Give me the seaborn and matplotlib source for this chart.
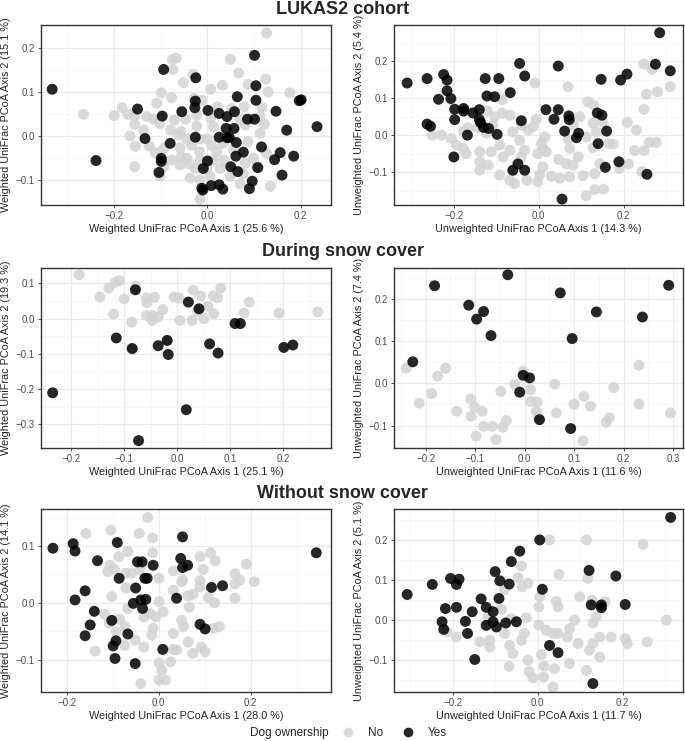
import numpy as np
import pandas as pd
import matplotlib
matplotlib.use('Agg')
import matplotlib.pyplot as plt
import seaborn as sns
from matplotlib.ticker import AutoMinorLocator, FuncFormatter
from matplotlib.lines import Line2D

sns.set_theme(style='white')
plt.rcParams['font.family'] = ['Liberation Sans', 'DejaVu Sans']

# ---- LUKAS2 cohort, weighted UniFrac ----
lw_yes_x = [-0.333, -0.239, -0.150, -0.134, -0.094, -0.097, -0.099, -0.099, -0.104, -0.080,
            -0.055, -0.025, -0.026, -0.027, -0.026, -0.009, 0.000, -0.010, -0.012, 0.001,
            0.008, 0.025, 0.025, 0.025, 0.042, 0.040, 0.042, 0.047, 0.050, 0.033,
            0.064, 0.058, 0.057, 0.062, 0.061, 0.065, 0.077, 0.086, 0.101, 0.101,
            0.104, 0.104, 0.108, 0.096, 0.090, 0.116, 0.147, 0.170, 0.144, 0.156,
            0.160, 0.185, 0.197, 0.201, 0.235]
lw_yes_y = [0.107, -0.055, 0.062, -0.005, 0.152, 0.046, -0.050, -0.057, -0.082, -0.016,
            0.056, 0.133, 0.080, 0.065, -0.002, -0.073, -0.056, -0.122, -0.118, 0.059,
            -0.112, -0.110, 0.052, -0.002, 0.045, 0.018, -0.003, -0.003, -0.069, -0.120,
            0.090, 0.056, 0.018, -0.014, -0.045, -0.080, -0.036, 0.039, 0.039, 0.184,
            0.115, 0.082, -0.071, -0.102, -0.119, -0.024, 0.057, 0.014, -0.053, -0.037,
            -0.088, -0.045, 0.081, 0.083, 0.022]
lw_no_x = [0.127, -0.067, -0.075, 0.049, -0.074, 0.067, -0.031, -0.052, 0.125, 0.032,
           0.087, 0.007, 0.177, 0.130, -0.099, -0.077, -0.028, -0.109, -0.012, 0.021,
           0.052, 0.079, 0.117, -0.183, -0.266, -0.200, -0.171, -0.156, -0.130, -0.116,
           -0.071, -0.047, -0.023, 0.007, 0.070, 0.113, -0.156, -0.102, -0.079, -0.057,
           -0.023, 0.013, 0.081, 0.122, -0.137, -0.166, -0.062, -0.044, -0.016, -0.001,
           0.033, 0.087, 0.113, -0.155, -0.125, -0.093, -0.059, -0.034, 0.009, 0.020,
           0.056, 0.127, -0.017, -0.112, -0.057, -0.077, -0.016, 0.013, 0.036, 0.099,
           -0.156, -0.094, -0.059, -0.039, -0.026, 0.027, 0.081, 0.106, -0.102, -0.037,
           -0.016, 0.006, 0.049, 0.077, 0.135, 0.070, -0.016, -0.044, -0.001]
lw_no_y = [0.235, 0.178, 0.175, 0.175, 0.152, 0.144, 0.141, 0.122, 0.130, 0.116,
           0.118, 0.107, 0.099, 0.101, 0.099, 0.088, 0.086, 0.075, 0.082, 0.067,
           0.063, 0.067, 0.066, 0.065, 0.050, 0.047, 0.050, 0.045, 0.045, 0.039,
           0.037, 0.039, 0.048, 0.041, 0.039, 0.045, 0.027, 0.029, 0.014, 0.011,
           0.023, 0.022, 0.026, 0.028, 0.014, 0.001, 0.003, -0.006, -0.006, -0.006,
           -0.016, -0.012, 0.007, -0.023, -0.022, -0.027, -0.026, -0.020, -0.020, -0.035,
           -0.031, -0.039, -0.035, -0.037, -0.046, -0.054, -0.054, -0.054, -0.054, -0.050,
           -0.069, -0.069, -0.065, -0.063, -0.073, -0.073, -0.061, -0.069, -0.091, -0.095,
           -0.099, -0.091, -0.091, -0.085, -0.114, -0.108, -0.142, -0.050, -0.073]

# ---- LUKAS2 cohort, unweighted UniFrac ----
lu_yes_x = [-0.310, -0.263, -0.263, -0.255, -0.236, -0.224, -0.216, -0.216, -0.207, -0.198,
            -0.198, -0.200, -0.177, -0.177, -0.168, -0.155, -0.140, -0.140, -0.137, -0.130,
            -0.126, -0.122, -0.118, -0.104, -0.098, -0.094, -0.067, -0.061, -0.049, -0.045,
            -0.041, -0.033, -0.033, 0.017, 0.036, 0.046, 0.046, 0.071, 0.072, 0.061,
            0.089, 0.094, 0.140, 0.138, 0.149, 0.160, 0.157, 0.147, 0.193, 0.208,
            0.189, 0.255, 0.055, 0.275, 0.285, 0.310]
lu_yes_y = [0.141, 0.153, 0.030, 0.024, 0.097, 0.164, 0.149, 0.120, 0.099, 0.070,
            0.042, -0.059, 0.072, 0.065, 0.000, 0.060, 0.069, 0.042, 0.034, 0.021,
            0.153, 0.106, 0.018, 0.104, 0.002, 0.153, 0.115, -0.095, -0.078, 0.194,
            0.039, 0.160, -0.095, 0.069, 0.043, 0.069, 0.187, 0.052, 0.042, 0.011,
            -0.007, 0.005, -0.023, 0.060, 0.054, 0.011, -0.087, 0.151, 0.149, 0.165,
            -0.072, -0.106, -0.173, 0.192, 0.277, 0.174]
lu_no_x = [-0.009, 0.069, 0.116, 0.130, 0.248, 0.267, 0.280, 0.254, 0.310, 0.248,
           0.209, 0.230, 0.260, 0.277, 0.226, 0.248, 0.243, 0.212, 0.190, 0.165,
           0.176, 0.150, 0.128, 0.136, 0.112, 0.128, 0.097, 0.081, 0.069, 0.073,
           0.093, 0.144, 0.132, 0.105, 0.112, 0.153, 0.132, 0.073, 0.050, 0.047,
           0.065, 0.081, 0.030, 0.002, -0.002, 0.010, -0.002, 0.010, 0.018, 0.006,
           0.014, -0.006, -0.013, -0.025, -0.041, -0.061, -0.045, -0.033, -0.041, -0.068,
           -0.084, -0.068, -0.086, -0.104, -0.121, -0.108, -0.086, -0.123, -0.143, -0.167,
           -0.177, -0.206, -0.229, -0.251, -0.194, -0.178, -0.171, -0.139, -0.119, -0.139,
           -0.092, -0.068, -0.057, -0.028, -0.112, -0.092, -0.139]
lu_no_y = [0.141, 0.131, 0.090, 0.081, 0.192, 0.178, 0.117, 0.111, 0.131, 0.070,
           0.034, 0.014, -0.020, -0.020, -0.042, -0.042, -0.099, -0.078, -0.090, -0.023,
           -0.024, 0.036, 0.032, 0.009, -0.005, -0.034, 0.050, 0.027, -0.011, -0.036,
           -0.059, -0.077, -0.104, -0.110, -0.164, -0.146, -0.147, -0.113, -0.117, -0.066,
           -0.077, -0.081, -0.111, -0.108, -0.126, -0.086, -0.050, -0.036, -0.045, -0.023,
           -0.005, 0.043, 0.023, 0.014, 0.027, 0.009, -0.014, -0.041, -0.059, -0.041,
           -0.059, 0.054, 0.059, 0.050, 0.065, 0.027, 0.096, 0.005, 0.020, 0.020,
           0.011, -0.009, 0.000, 0.000, -0.027, -0.036, -0.050, -0.072, -0.081, -0.095,
           -0.108, -0.122, -0.131, -0.122, -0.045, -0.027, -0.045]

# ---- During snow cover, weighted UniFrac ----
dw_yes_x = [-0.235, -0.079, -0.115, -0.085, -0.036, -0.017, -0.019, 0.021, 0.041, 0.061,
            0.077, 0.109, 0.119, 0.017, -0.073, 0.201, 0.218]
dw_yes_y = [-0.211, 0.082, -0.055, -0.085, -0.077, -0.102, -0.062, 0.047, 0.028, -0.072,
            -0.098, -0.014, -0.014, -0.259, -0.347, -0.082, -0.075]
dw_no_x = [-0.185, -0.146, -0.129, -0.117, -0.109, -0.100, -0.120, -0.086, -0.078, -0.058,
           -0.057, -0.043, -0.058, -0.047, -0.047, -0.036, -0.027, -0.006, 0.003, 0.005,
           0.030, 0.028, 0.044, 0.038, 0.050, 0.058, 0.068, 0.076, 0.069, 0.082,
           0.126, 0.136, 0.192, 0.265, -0.085, -0.019]
dw_no_y = [0.125, 0.062, 0.087, 0.103, 0.108, 0.056, 0.013, -0.010, 0.092, 0.059,
           0.045, 0.061, 0.009, 0.009, -0.005, 0.005, 0.026, 0.061, 0.059, -0.005,
           0.081, -0.005, 0.064, 0.021, 0.000, 0.035, 0.065, 0.059, 0.014, 0.087,
           0.016, 0.047, 0.016, 0.019, -0.088, -0.062]

# ---- During snow cover, unweighted UniFrac ----
du_yes_x = [-0.226, -0.182, -0.113, -0.083, -0.097, -0.068, -0.034, -0.003, 0.010, -0.010,
            0.030, 0.072, 0.096, 0.093, 0.145, 0.238, 0.291]
du_yes_y = [0.051, 0.231, 0.185, 0.170, 0.152, 0.113, 0.257, 0.019, 0.013, -0.021,
            -0.086, 0.214, 0.106, -0.107, 0.169, 0.157, 0.232]
du_no_x = [-0.239, -0.213, -0.188, -0.176, -0.160, -0.137, -0.109, -0.108, -0.101, -0.086,
           -0.083, -0.098, -0.065, -0.058, -0.044, -0.037, -0.048, -0.020, -0.003, 0.012,
           0.012, 0.025, 0.024, 0.027, 0.061, 0.064, 0.100, 0.120, 0.133, 0.118,
           0.171, 0.165, 0.180, 0.231, 0.231, 0.295]
du_no_y = [0.036, -0.047, -0.024, 0.017, 0.036, -0.066, -0.037, -0.078, -0.056, -0.066,
           -0.102, -0.125, -0.102, -0.133, -0.104, -0.088, -0.019, -0.002, 0.029, -0.015,
           -0.043, -0.044, -0.066, -0.078, -0.002, -0.070, -0.049, -0.031, -0.054, -0.136,
           -0.081, -0.092, -0.010, 0.043, -0.049, -0.070]

# ---- Without snow cover, weighted UniFrac ----
ww_yes_x = [-0.230, -0.186, -0.182, -0.182, -0.160, -0.160, -0.149, -0.140, -0.133, -0.102,
            -0.099, -0.093, -0.095, -0.090, -0.086, -0.067, -0.051, -0.055, -0.050, -0.046,
            -0.039, -0.036, -0.035, -0.028, -0.030, -0.025, -0.012, 0.009, 0.039, 0.048,
            0.052, 0.052, 0.063, 0.090, 0.101, 0.115, 0.139, 0.343]
ww_yes_y = [0.096, 0.104, 0.091, 0.005, 0.021, -0.058, -0.039, -0.015, 0.074, -0.031,
            -0.076, -0.067, -0.098, 0.106, 0.043, -0.055, -0.107, -0.001, 0.026, 0.072,
            0.005, 0.072, -0.010, 0.006, 0.043, 0.043, 0.066, -0.082, 0.008, 0.078,
            0.062, 0.116, 0.066, -0.038, -0.046, 0.027, 0.030, 0.088]
ww_no_x = [-0.024, -0.158, -0.104, -0.042, -0.013, -0.067, -0.087, -0.013, -0.106, -0.096,
           -0.111, -0.072, -0.059, -0.041, 0.001, 0.032, 0.052, 0.050, -0.071, -0.102,
           -0.067, -0.118, -0.108, -0.085, -0.093, -0.073, -0.074, -0.138, -0.051, -0.032,
           -0.039, 0.001, -0.032, -0.019, -0.006, 0.010, -0.012, -0.015, 0.001, 0.007,
           0.015, 0.001, 0.026, 0.032, 0.039, 0.032, 0.050, 0.054, 0.032, 0.064,
           0.075, 0.067, 0.064, 0.074, 0.090, 0.097, 0.090, 0.090, 0.108, 0.113,
           0.123, 0.122, 0.119, 0.132, 0.101, 0.093, 0.166, 0.177, 0.166, 0.166,
           0.191, 0.208]
ww_no_y = [0.150, 0.122, 0.128, 0.122, 0.114, 0.090, 0.081, 0.088, 0.066, 0.059,
           0.055, 0.052, 0.052, 0.059, 0.043, 0.056, 0.040, 0.037, 0.026, 0.011,
           -0.010, -0.020, -0.036, -0.029, -0.051, -0.042, -0.075, -0.085, -0.066, -0.078,
           -0.142, 0.002, -0.025, -0.019, -0.025, -0.016, -0.045, -0.057, -0.106, -0.119,
           -0.136, -0.136, -0.104, -0.082, -0.083, -0.054, -0.031, -0.042, 0.022, 0.012,
           0.015, -0.008, -0.069, -0.089, 0.081, 0.059, 0.039, 0.028, 0.009, 0.088,
           0.074, 0.000, -0.045, -0.042, -0.086, -0.078, 0.051, 0.040, 0.033, 0.008,
           0.068, 0.037]

# ---- Without snow cover, unweighted UniFrac ----
wu_yes_x = [-0.307, -0.248, -0.225, -0.221, -0.217, -0.205, -0.191, -0.185, -0.191, -0.170,
            -0.165, -0.154, -0.148, -0.133, -0.121, -0.121, -0.105, -0.105, -0.097, -0.100,
            -0.091, -0.089, -0.075, -0.067, -0.062, -0.050, -0.042, 0.005, 0.011, 0.028,
            0.048, 0.121, 0.126, 0.150, 0.150, 0.130, 0.184, 0.206, 0.313]
wu_yes_y = [0.064, 0.089, -0.004, -0.023, 0.029, 0.104, 0.089, 0.102, 0.032, -0.003,
            -0.033, 0.021, -0.098, 0.053, 0.032, -0.013, 0.021, -0.004, -0.017, 0.121,
            0.054, 0.098, -0.007, 0.090, 0.146, -0.004, 0.172, 0.200, 0.077, -0.063,
            -0.081, 0.124, 0.038, 0.038, 0.031, -0.158, 0.110, 0.039, 0.256]
wu_no_x = [0.028, 0.115, 0.248, -0.038, -0.046, 0.050, 0.118, -0.023, -0.036, -0.078,
           0.005, 0.044, 0.048, 0.003, 0.099, 0.128, 0.159, -0.085, -0.117, -0.062,
           -0.027, 0.003, 0.020, 0.036, 0.048, 0.075, 0.087, 0.070, 0.095, 0.122,
           0.130, 0.130, 0.138, 0.146, 0.146, 0.173, 0.206, 0.211, 0.258, 0.303,
           0.115, 0.075, 0.040, 0.015, 0.009, -0.011, -0.020, -0.023, -0.067, -0.066,
           -0.058, -0.038, -0.031, -0.078, -0.113, -0.136, -0.113, -0.191, -0.213, 0.036,
           0.014]
wu_no_y = [0.200, 0.200, 0.189, 0.135, 0.106, 0.114, 0.104, 0.092, 0.083, 0.075,
           0.058, 0.047, 0.033, 0.033, 0.058, 0.050, 0.046, 0.027, 0.006, 0.004,
           0.006, -0.012, -0.025, -0.033, -0.033, -0.021, 0.000, -0.042, -0.058, -0.075,
           -0.058, -0.007, 0.008, -0.042, -0.092, -0.042, -0.046, -0.058, -0.054, 0.000,
           -0.125, -0.108, -0.121, -0.115, -0.086, -0.144, -0.128, -0.100, -0.115, -0.063,
           -0.083, -0.050, -0.033, -0.033, -0.067, -0.054, -0.050, -0.042, -0.029, -0.167,
           -0.142]

row_titles = ['LUKAS2 cohort', 'During snow cover', 'Without snow cover']
palette = {'No': '#d3d3d3', 'Yes': '#000000'}


def make_df(no_x, no_y, yes_x, yes_y):
    no = pd.DataFrame({'x': no_x, 'y': no_y, 'dog': 'No'})
    yes = pd.DataFrame({'x': yes_x, 'y': yes_y, 'dog': 'Yes'})
    return pd.concat([no, yes], ignore_index=True)


panels = [
    (make_df(lw_no_x, lw_no_y, lw_yes_x, lw_yes_y),
     'Weighted UniFrac PCoA Axis 1 (25.6 %)', 'Weighted UniFrac PCoA Axis 2 (15.1 %)',
     (-0.357, 0.265), (-0.156, 0.253), [-0.2, 0.0, 0.2], [-0.1, 0.0, 0.1, 0.2]),
    (make_df(lu_no_x, lu_no_y, lu_yes_x, lu_yes_y),
     'Unweighted UniFrac PCoA Axis 1 (14.3 %)', 'Unweighted UniFrac PCoA Axis 2 (5.4 %)',
     (-0.341, 0.340), (-0.189, 0.298), [-0.2, 0.0, 0.2], [-0.1, 0.0, 0.1, 0.2]),
    (make_df(dw_no_x, dw_no_y, dw_yes_x, dw_yes_y),
     'Weighted UniFrac PCoA Axis 1 (25.1 %)', 'Weighted UniFrac PCoA Axis 2 (19.3 %)',
     (-0.257, 0.290), (-0.368, 0.144), [-0.2, -0.1, 0.0, 0.1, 0.2], [-0.3, -0.2, -0.1, 0.0, 0.1]),
    (make_df(du_no_x, du_no_y, du_yes_x, du_yes_y),
     'Unweighted UniFrac PCoA Axis 1 (11.6 %)', 'Unweighted UniFrac PCoA Axis 2 (7.4 %)',
     (-0.264, 0.320), (-0.153, 0.273), [-0.2, -0.1, 0.0, 0.1, 0.2, 0.3], [-0.1, 0.0, 0.1, 0.2]),
    (make_df(ww_no_x, ww_no_y, ww_yes_x, ww_yes_y),
     'Weighted UniFrac PCoA Axis 1 (28.0 %)', 'Weighted UniFrac PCoA Axis 2 (14.1 %)',
     (-0.256, 0.375), (-0.157, 0.165), [-0.2, 0.0, 0.2], [-0.1, 0.0, 0.1]),
    (make_df(wu_no_x, wu_no_y, wu_yes_x, wu_yes_y),
     'Unweighted UniFrac PCoA Axis 1 (11.7 %)', 'Unweighted UniFrac PCoA Axis 2 (5.1 %)',
     (-0.338, 0.342), (-0.179, 0.277), [-0.2, 0.0, 0.2], [-0.1, 0.0, 0.1, 0.2]),
]

W, H = 685, 741
fig = plt.figure(figsize=(W / 100, H / 100), dpi=100)

col_left = [41, 394]
col_right = [331, 683]
row_top = [25, 268, 509]
row_bottom = [205, 448, 692]
title_y = [10, 252, 494]

fmt = FuncFormatter(lambda v, p: f'{v:.1f}'.replace('-', '\u2212'))

for i, (df, xlabel, ylabel, xlim, ylim, xt, yt) in enumerate(panels):
    r, c = divmod(i, 2)
    rect = [col_left[c] / W, 1 - row_bottom[r] / H,
            (col_right[c] - col_left[c]) / W, (row_bottom[r] - row_top[r]) / H]
    ax = fig.add_axes(rect)
    sns.scatterplot(data=df, x='x', y='y', hue='dog', hue_order=['No', 'Yes'],
                    palette=palette, s=62, alpha=0.85, linewidth=0, legend=False, ax=ax)
    ax.set_xlim(xlim)
    ax.set_ylim(ylim)
    ax.set_xticks(xt)
    ax.set_yticks(yt)
    ax.xaxis.set_major_formatter(fmt)
    ax.yaxis.set_major_formatter(fmt)
    ax.xaxis.set_minor_locator(AutoMinorLocator(2))
    ax.yaxis.set_minor_locator(AutoMinorLocator(2))
    ax.set_axisbelow(True)
    ax.grid(which='major', color='#ebebeb', lw=0.9)
    ax.grid(which='minor', color='#f4f4f4', lw=0.5)
    for sp in ax.spines.values():
        sp.set_color('#333333')
        sp.set_linewidth(1.0)
    ax.tick_params(which='major', labelsize=7, labelcolor='#4d4d4d', length=2.5,
                   width=0.6, color='#333333', pad=2, bottom=True, left=True)
    ax.tick_params(which='minor', length=0)
    ax.set_xlabel(xlabel, fontsize=7.8, labelpad=2)
    ax.set_ylabel(ylabel, fontsize=7.8, labelpad=3)

for t, y in zip(row_titles, title_y):
    fig.text(0.5, 1 - y / H, t, ha='center', va='center', fontsize=13, fontweight='bold')

fig.text(250 / W, 1 - 733 / H, 'Dog ownership', ha='left', va='center', fontsize=8.5)
handles = [Line2D([], [], marker='o', ls='', markersize=7, markerfacecolor=palette[k],
                  markeredgewidth=0, alpha=0.85) for k in ['No', 'Yes']]
fig.legend(handles, ['No', 'Yes'], loc='center left', bbox_to_anchor=(342 / W, 1 - 733 / H),
           ncol=2, frameon=False, fontsize=8.5, handletextpad=1.2, columnspacing=1.6,
           handlelength=1.0, borderpad=0, borderaxespad=0)

fig.savefig('out.png', dpi=100)
